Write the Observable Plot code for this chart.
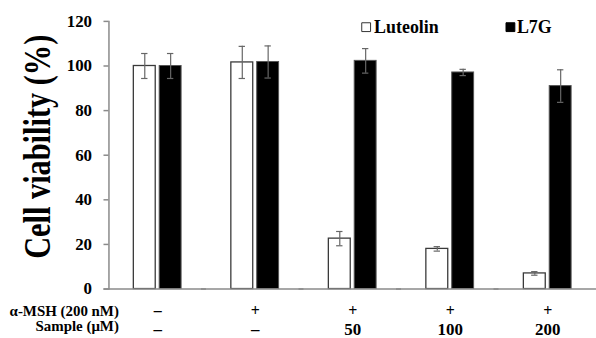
<!DOCTYPE html>
<html><head><meta charset="utf-8">
<script src="https://cdn.jsdelivr.net/npm/d3@7"></script>
<script src="https://cdn.jsdelivr.net/npm/@observablehq/plot@0.6"></script>
<style>
html,body{margin:0;padding:0;background:#fff;overflow:hidden}
#chart{width:596px;height:338px;overflow:hidden;position:relative}
#chart svg{display:block}
</style></head><body><div id="chart"></div>
<script>
// ---- data ----
const groups = ["ctrl", "msh", "s50", "s100", "s200"];
const series = ["Luteolin", "L7G"];
const luteolin = [100, 101.6, 22.6, 18.0, 7.0];
const luteolinErr = [5.6, 7.2, 3.2, 1.0, 0.8];
const l7g = [100, 101.8, 102.3, 97.1, 91.0];
const l7gErr = [5.6, 7.2, 5.5, 1.4, 7.3];
const mshRow = ["–", "+", "+", "+", "+"];
const sampleRow = ["–", "–", "50", "100", "200"];
const rowLabels = ["α-MSH (200 nM)", "Sample (μM)"];
const yTicks = [0, 20, 40, 60, 80, 100, 120];
const yTitle = "Cell viability (%)";

const data = groups.flatMap((g, i) => [
  {group: g, series: "Luteolin", value: luteolin[i], err: luteolinErr[i]},
  {group: g, series: "L7G", value: l7g[i], err: l7gErr[i]}
]);
const lut = data.filter(d => d.series === "Luteolin");
const l7 = data.filter(d => d.series === "L7G");
const first = () => groups[0];
const font = "'Liberation Serif','Times New Roman',Times,serif";
const axisGray = "#8a8a8a";

const chart = Plot.plot({
  width: 599, height: 338,
  marginLeft: 108, marginRight: 0, marginTop: 21, marginBottom: 48,
  style: {fontFamily: font, fontWeight: "bold", fontSize: "16px", color: "#000", background: "#fff", overflow: "visible"},
  fx: {domain: groups, padding: 0, axis: null},
  x: {domain: series, paddingInner: 0.16, paddingOuter: 0.91, axis: null},
  y: {domain: [0, 120], axis: null},
  marks: [
    Plot.frame({anchor: "left", facetAnchor: "left", stroke: axisGray, strokeWidth: 1.5}),
    Plot.axisY({ticks: yTicks, tickSize: 5, tickPadding: 12, stroke: axisGray, strokeWidth: 1.5, fill: "#000", fontSize: 17, fontWeight: "bold", label: null}),
    Plot.barY(lut, {fx: "group", x: "series", y: "value", fill: "#fff", stroke: "#3a3a3a", strokeWidth: 1.3}),
    Plot.barY(l7, {fx: "group", x: "series", y: "value", fill: "#000", stroke: "#555", strokeWidth: 1}),
    Plot.ruleX(data, {fx: "group", x: "series", y1: d => d.value - d.err, y2: d => d.value + d.err, stroke: "#666", strokeWidth: 1.2}),
    Plot.tickY(data, {fx: "group", x: "series", y: d => d.value + d.err, inset: 7.8, stroke: "#666", strokeWidth: 1.2}),
    Plot.tickY(data, {fx: "group", x: "series", y: d => d.value - d.err, inset: 7.8, stroke: "#666", strokeWidth: 1.2}),
    Plot.ruleY([0], {stroke: axisGray, strokeWidth: 1.5, insetLeft: -5}),
    // category rows
    Plot.text(groups, {fx: d => d, text: (d, i) => mshRow[i], frameAnchor: "bottom", lineAnchor: "bottom", dy: 27, fontSize: 16}),
    Plot.text(groups, {fx: d => d, text: (d, i) => sampleRow[i], frameAnchor: "bottom", lineAnchor: "bottom", dy: 46.5, fontSize: 17}),
    Plot.text([rowLabels[0]], {fx: first, frameAnchor: "bottom-left", textAnchor: "end", lineAnchor: "bottom", dx: 10, dy: 27, fontSize: 15}),
    Plot.text([rowLabels[1]], {fx: first, frameAnchor: "bottom-left", textAnchor: "end", lineAnchor: "bottom", dx: 10, dy: 42, fontSize: 15}),
    // legend
    Plot.dot([series[0]], {fx: first, frameAnchor: "top-left", dx: 258.5, dy: 5.8, symbol: "square", r: 5, fill: "#fff", stroke: "#333", strokeWidth: 1}),
    Plot.text([series[0]], {fx: first, frameAnchor: "top-left", lineAnchor: "middle", dx: 266.5, dy: 5.8, textAnchor: "start", fontSize: 18}),
    Plot.dot([series[1]], {fx: first, frameAnchor: "top-left", dx: 403.5, dy: 5.8, symbol: "square", r: 5, fill: "#000", stroke: "#000", strokeWidth: 1}),
    Plot.text([series[1]], {fx: first, frameAnchor: "top-left", lineAnchor: "middle", dx: 410, dy: 5.8, textAnchor: "start", fontSize: 18})
  ]
});
// y-axis title (rotated)
d3.select(chart).append("text")
  .attr("transform", "translate(38.5,147.5) rotate(-90) scale(1,1.22)")
  .attr("text-anchor", "middle")
  .attr("dy", "0.32em")
  .attr("font-family", font)
  .attr("font-weight", "bold")
  .attr("font-size", 30.5)
  .attr("fill", "#000")
  .text(yTitle);
document.getElementById("chart").append(chart);
</script></body></html>
